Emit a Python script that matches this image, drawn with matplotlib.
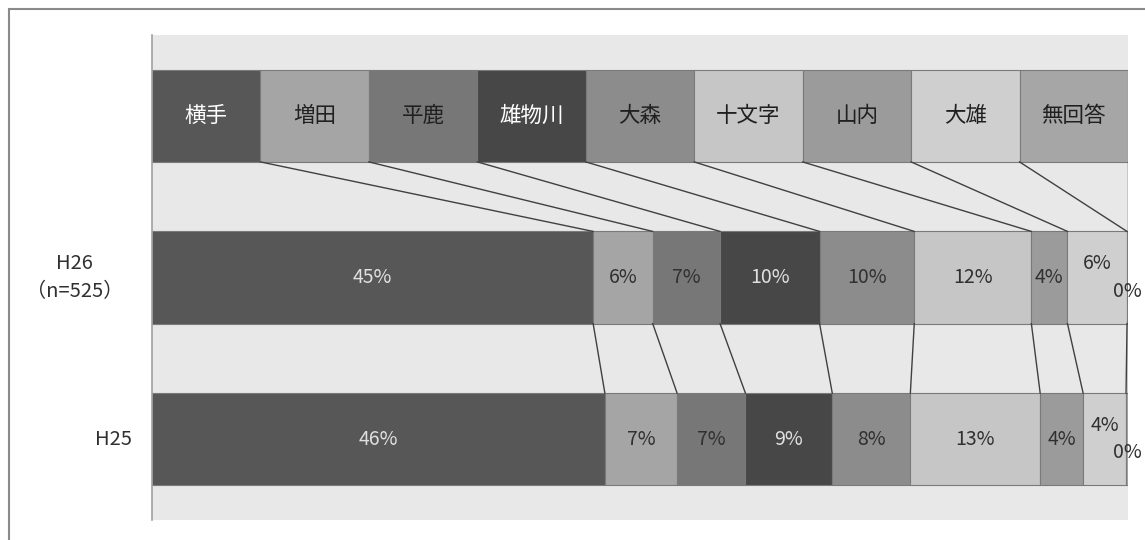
import matplotlib
matplotlib.use("Agg")
import matplotlib.pyplot as plt
import numpy as np
from matplotlib.patches import Rectangle

plt.rcParams['font.family'] = ['Noto Sans CJK JP', 'DejaVu Sans']

areas = ["横手", "増田", "平鹿", "雄物川", "大森", "十文字", "山内", "大雄", "無回答"]
colors = ["#575757", "#a5a5a5", "#777777", "#474747", "#8c8c8c",
          "#c6c6c6", "#9b9b9b", "#cfcfcf", "#a6a6a6"]
years = ["H26\n（n=525）", "H25"]
h26 = [45.2, 6.1, 6.9, 10.2, 9.7, 12.0, 3.7, 6.1, 0.1]
h25 = [46.4, 7.4, 7.0, 8.9, 8.0, 13.3, 4.4, 4.4, 0.2]
header = [100 / len(areas)] * len(areas)

rows = [header, h26, h25]
bh = 0.57

fig = plt.figure(figsize=(11.45, 5.4), dpi=100)
ax = fig.add_axes([152 / 1145, 20 / 540, 976 / 1145, 485 / 540])
ax.set_facecolor("#e8e8e8")

def txt_color(c):
    return "white" if int(c[1:3], 16) < 0x60 else "#202020"

for r, vals in enumerate(rows):
    left = np.concatenate([[0], np.cumsum(vals)[:-1]])
    ax.barh(r, vals, left=left, height=bh, color=colors,
            edgecolor="#7a7a7a", linewidth=0.8)
    for i, (l, v) in enumerate(zip(left, vals)):
        if r == 0:
            ax.text(l + v / 2, r, areas[i], ha="center", va="center",
                    fontsize=15.5, color=txt_color(colors[i]))
            continue
        x, y, ha = l + v / 2, r, "center"
        if i == 7:
            y -= 0.085
        if i == 8:
            x, y, ha = 101.4, r + 0.085, "right"
        lc = "#e0e0e0" if txt_color(colors[i]) == "white" else "#303030"
        ax.text(x, y, f"{v:.0f}%", ha=ha, va="center",
                fontsize=14, color=lc, clip_on=False)

# series lines between neighbouring bars
for r in range(len(rows) - 1):
    c1 = np.cumsum(rows[r])
    c2 = np.cumsum(rows[r + 1])
    for a, b in zip(c1, c2):
        ax.plot([a, b], [r + bh / 2, r + 1 - bh / 2], color="#404040", lw=1)

ax.set_xlim(0, 100)
ax.set_ylim(2.5, -0.5)
ax.set_xticks([])
ax.set_yticks([])
for s in ["top", "right", "bottom"]:
    ax.spines[s].set_visible(False)
ax.spines["left"].set_color("#a0a0a0")
ax.spines["left"].set_linewidth(1.2)

tr = ax.get_yaxis_transform()
ax.text(-0.079, 1, years[0], transform=tr, ha="center", va="center",
        fontsize=14.5, color="#303030", multialignment="center", linespacing=1.4)
ax.text(-0.021, 2, years[1], transform=tr, ha="right", va="center",
        fontsize=14.5, color="#303030")

fig.patches.append(Rectangle((9 / 1145, -0.1), 1.2, 1 - 9 / 540 + 0.1,
                             transform=fig.transFigure, fill=False,
                             edgecolor="#8a8a8a", linewidth=1.5))

fig.savefig("out.png", dpi=100)
